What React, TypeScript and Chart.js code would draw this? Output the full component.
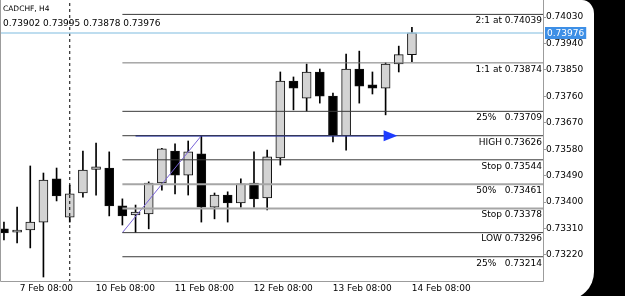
import React, { useEffect, useRef } from "react";
import { Chart, registerables } from "chart.js";

Chart.register(...registerables);

// ---------- data ----------
const symbolTitle = "CADCHF, H4";
const candleIndex = [
  0, 1, 2, 3, 4, 5, 6, 7, 8, 9, 10, 11, 12, 13, 14, 15,
  16, 17, 18, 19, 20, 21, 22, 23, 24, 25, 26, 27, 28, 29, 30, 31,
];
const opens = [
  0.73309, 0.73298, 0.73305, 0.73332, 0.73479, 0.73349, 0.73431, 0.73511,
  0.73516, 0.73387, 0.73356, 0.7336, 0.73465, 0.73574, 0.73492, 0.73564,
  0.73383, 0.73424, 0.73397, 0.73465, 0.73414, 0.7355, 0.73812, 0.73754,
  0.73843, 0.73761, 0.73626, 0.73853, 0.73799, 0.73788, 0.7387, 0.73902,
];
const highs = [
  0.73332, 0.73383, 0.73523, 0.73499, 0.73516, 0.73458, 0.73574, 0.73601,
  0.73571, 0.73411, 0.7339, 0.73469, 0.73583, 0.73598, 0.73608, 0.73626,
  0.73431, 0.73435, 0.73479, 0.73571, 0.73577, 0.73843, 0.73826, 0.7387,
  0.73853, 0.73771, 0.73904, 0.73914, 0.73843, 0.73874, 0.73931, 0.73995,
];
const lows = [
  0.73271, 0.73261, 0.73244, 0.73145, 0.73404, 0.73332, 0.73417, 0.73424,
  0.73353, 0.73322, 0.73296, 0.73309, 0.73441, 0.73428, 0.73424, 0.73332,
  0.73343, 0.73332, 0.73383, 0.73383, 0.73373, 0.73526, 0.73714, 0.7371,
  0.73737, 0.73605, 0.73577, 0.73737, 0.73768, 0.73697, 0.73843, 0.73878,
];
const closes = [
  0.73295, 0.73305, 0.73332, 0.73475, 0.73421, 0.73428, 0.73509, 0.7352,
  0.73387, 0.73353, 0.73366, 0.73465, 0.73581, 0.73492, 0.73571, 0.73383,
  0.73424, 0.73397, 0.73462, 0.73411, 0.73554, 0.73812, 0.73788, 0.73843,
  0.73761, 0.73626, 0.73853, 0.73795, 0.73788, 0.7387, 0.73902, 0.73976,
];

const xTickIndex = [3, 9, 15, 21, 27, 33];
const xTickLabels = [
  "7 Feb 08:00",
  "10 Feb 08:00",
  "11 Feb 08:00",
  "12 Feb 08:00",
  "13 Feb 08:00",
  "14 Feb 08:00",
];
const yTickValues = [
  0.7322, 0.7331, 0.734, 0.7349, 0.7358, 0.7367, 0.7376, 0.7385, 0.7394, 0.7403,
];

const levelNames = ["2:1 at", "1:1 at", "25%  ", "HIGH", "Stop", "50%  ", "Stop", "LOW", "25%  "];
const levelPrices = [0.74039, 0.73874, 0.73709, 0.73626, 0.73544, 0.73461, 0.73378, 0.73296, 0.73214];
const levelStartIndex = 9;

const currentPrice = 0.73976;
const arrowPrice = 0.73626;
const arrowFromIndex = 10;
const arrowToIndex = 29.9;
const trendIndex = [9, 15];
const trendPrice = [0.73296, 0.73626];
const separatorIndex = 5;

const xMin = -0.3;
const xMax = 40.96;
const yMin = 0.73128;
const yMax = 0.74088;

// ---------- styles ----------
const FONT = "'DejaVu Sans', 'Liberation Sans', sans-serif";
const bullFill = "#d3d3d3";
const bearFill = "#000000";
const levelColors = ["#3a3a3a", "#7a7a7a", "#3a3a3a", "#3a3a3a", "#3a3a3a", "#a6a6a6", "#a6a6a6", "#3a3a3a", "#3a3a3a"];
const levelWidths = [1, 1, 1, 1, 1, 2, 2, 1, 1];
const arrowColor = "#1f2fd0";
const currentColor = "#a9d2ea";
const priceBoxColor = "#3d8fe6";

export default function App() {
  const canvasRef = useRef<HTMLCanvasElement | null>(null);

  useEffect(() => {
    const canvas = canvasRef.current;
    if (!canvas) return;
    Chart.defaults.font.family = FONT;

    const wickData = candleIndex.map((i) => ({ x: i, y: [lows[i], highs[i]] }));
    const bodyData = candleIndex.map((i) => ({ x: i, y: [opens[i], closes[i]] }));
    const bodyColors = candleIndex.map((i) => (closes[i] >= opens[i] ? bullFill : bearFill));

    const levelDatasets = levelPrices.map((p, k) => ({
      type: "line" as const,
      data: [
        { x: levelStartIndex, y: p },
        { x: xMax, y: p },
      ],
      borderColor: levelColors[k],
      borderWidth: levelWidths[k],
      pointRadius: 0,
      order: 0,
    }));

    const overlayPlugin = {
      id: "overlay",
      afterDatasetsDraw(chart: any) {
        const { ctx, chartArea } = chart;
        const xs = chart.scales.x;
        const ys = chart.scales.y;
        ctx.save();
        // arrow head
        const tipX = xs.getPixelForValue(arrowToIndex);
        const baseX = xs.getPixelForValue(arrowToIndex - 1.05);
        const ay = ys.getPixelForValue(arrowPrice);
        ctx.fillStyle = "#1e3cff";
        ctx.beginPath();
        ctx.moveTo(tipX, ay);
        ctx.lineTo(baseX, ay - 5.5);
        ctx.lineTo(baseX, ay + 5.5);
        ctx.closePath();
        ctx.fill();

        // level labels
        ctx.font = `9px ${FONT}`;
        ctx.fillStyle = "#000";
        ctx.textAlign = "right";
        ctx.textBaseline = "top";
        levelPrices.forEach((p, k) => {
          const y = ys.getPixelForValue(p);
          ctx.fillText(`${levelNames[k]} ${p.toFixed(5)}`, chartArea.right - 1, y + 2);
        });

        // borders
        ctx.strokeStyle = "#9c9c9c";
        ctx.lineWidth = 1;
        ctx.beginPath();
        ctx.moveTo(chartArea.left + 0.5, chartArea.top);
        ctx.lineTo(chartArea.left + 0.5, chartArea.bottom - 0.5);
        ctx.lineTo(chartArea.right + 0.5, chartArea.bottom - 0.5);
        ctx.lineTo(chartArea.right + 0.5, chartArea.top);
        ctx.stroke();

        // header
        ctx.textAlign = "left";
        ctx.textBaseline = "middle";
        ctx.font = `7.5px ${FONT}`;
        ctx.fillText(symbolTitle, 3, 9);
        ctx.font = `9px ${FONT}`;
        const n = candleIndex.length - 1;
        ctx.fillText(
          [opens[n], highs[n], lows[n], closes[n]].map((v) => v.toFixed(5)).join(" "),
          3,
          24
        );
        ctx.restore();
      },
      afterDraw(chart: any) {
        const { ctx, chartArea } = chart;
        const ys = chart.scales.y;
        const y = ys.getPixelForValue(currentPrice);
        ctx.save();
        ctx.font = `9px ${FONT}`;
        const txt = currentPrice.toFixed(5);
        const w = ctx.measureText(txt).width;
        ctx.fillStyle = priceBoxColor;
        ctx.fillRect(chartArea.right + 2, Math.round(y) - 6, w + 4, 12);
        ctx.fillStyle = "#ffffff";
        ctx.textAlign = "left";
        ctx.textBaseline = "middle";
        ctx.fillText(txt, chartArea.right + 4, y + 0.5);
        ctx.restore();
      },
    };

    const chart = new Chart(canvas, {
      type: "bar",
      data: {
        datasets: [
          {
            type: "line",
            data: [
              { x: xMin, y: currentPrice },
              { x: xMax, y: currentPrice },
            ],
            borderColor: currentColor,
            borderWidth: 1.5,
            pointRadius: 0,
            order: 0,
          },
          ...levelDatasets,
          {
            type: "line",
            data: [
              { x: arrowFromIndex, y: arrowPrice },
              { x: arrowToIndex - 1, y: arrowPrice },
            ],
            borderColor: arrowColor,
            borderWidth: 1.6,
            pointRadius: 0,
            order: 0,
          },
          {
            type: "line",
            data: [
              { x: trendIndex[0], y: trendPrice[0] },
              { x: trendIndex[1], y: trendPrice[1] },
            ],
            borderColor: "#7a64d8",
            borderWidth: 1,
            pointRadius: 0,
            order: 0,
          },
          {
            type: "line",
            data: [
              { x: separatorIndex, y: yMin },
              { x: separatorIndex, y: yMax },
            ],
            borderColor: "#000",
            borderWidth: 1,
            borderDash: [3, 3],
            pointRadius: 0,
            order: 0,
          },
          {
            type: "bar",
            data: bodyData as any,
            backgroundColor: bodyColors,
            borderColor: "#111",
            borderWidth: 1,
            borderSkipped: false,
            barThickness: 9,
            grouped: false,
            order: 1,
          },
          {
            type: "bar",
            data: wickData as any,
            backgroundColor: "#000",
            borderWidth: 0,
            barThickness: 1,
            grouped: false,
            order: 2,
          },
        ] as any,
      },
      options: {
        responsive: false,
        animation: false,
        layout: { padding: 0 },
        plugins: {
          legend: { display: false },
          tooltip: { enabled: false },
        },
        scales: {
          x: {
            type: "linear",
            min: xMin,
            max: xMax,
            offset: false,
            grid: { display: false, drawTicks: false },
            border: { display: false },
            afterBuildTicks: (scale: any) => {
              scale.ticks = xTickIndex.map((v) => ({ value: v }));
            },
            afterFit: (scale: any) => {
              scale.height = 14;
              scale.paddingLeft = 0;
              scale.paddingRight = 0;
            },
            ticks: {
              autoSkip: false,
              maxRotation: 0,
              padding: 1,
              labelOffset: 3,
              color: "#000",
              font: { size: 9, family: FONT },
              callback: (v: any) => {
                const k = xTickIndex.indexOf(Number(v));
                return k >= 0 ? xTickLabels[k] : "";
              },
            },
          },
          y: {
            type: "linear",
            position: "right",
            min: yMin,
            max: yMax,
            grid: {
              drawOnChartArea: false,
              drawTicks: true,
              tickLength: 3,
              color: "#9c9c9c",
            },
            border: { display: false },
            afterBuildTicks: (scale: any) => {
              scale.ticks = yTickValues.map((v) => ({ value: v }));
            },
            afterFit: (scale: any) => {
              scale.width = 82;
              scale.paddingTop = 0;
              scale.paddingBottom = 0;
            },
            ticks: {
              padding: 0,
              color: "#000",
              font: { size: 9, family: FONT },
              callback: (v: any) => Number(v).toFixed(5),
            },
          },
        },
      } as any,
      plugins: [overlayPlugin],
    });

    return () => chart.destroy();
  }, []);

  return (
    <div
      style={{
        position: "fixed",
        left: 0,
        top: 0,
        width: 625,
        height: 296,
        background: "#000",
        overflow: "hidden",
      }}
    >
      <div
        style={{
          position: "absolute",
          left: 0,
          top: 0,
          width: 594,
          height: 300,
          background: "#fff",
          borderTopRightRadius: "12px 14px",
          borderBottomRightRadius: "28px",
        }}
      />
      <canvas
        ref={canvasRef}
        width={625}
        height={296}
        style={{ position: "absolute", left: 0, top: 0, width: 625, height: 296 }}
      />
    </div>
  );
}
